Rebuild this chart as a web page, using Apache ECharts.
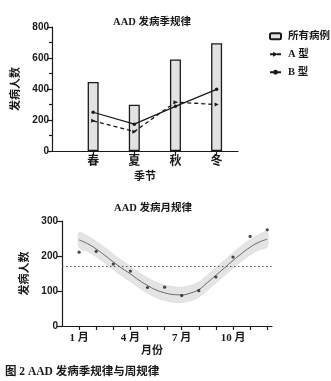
<!DOCTYPE html>
<html><head><meta charset="utf-8">
<script src="https://cdn.jsdelivr.net/npm/echarts@6/dist/echarts.min.js"></script>
<style>html,body{margin:0;padding:0;background:#fff}#c{width:331px;height:381px}</style>
</head><body><div id="c"></div>
<script>
// ---- Seasonal data ----
const seasons = ['春', '夏', '秋', '冬'];
const seasonPos = [1, 2, 3, 4];
const allCases = [445, 298, 590, 695];
const typeA = [195, 125, 315, 300];
const typeB = [250, 173, 288, 398];

// ---- Monthly data ----
const months = [1, 2, 3, 4, 5, 6, 7, 8, 9, 10, 11, 12];
const monthCases = [211, 213, 177, 157, 110, 111, 87, 101, 140, 197, 256, 275];
const monthLabelTicks = [1, 4, 7, 10];
const meanLevel = 170;
// fitted curve and confidence band
const curveX = [1, 1.5, 2, 2.5, 3, 3.5, 4, 4.5, 5, 5.5, 6, 6.5, 7, 7.5, 8, 8.5, 9, 9.5, 10, 10.5, 11, 11.5, 12];
const curveY = [246, 235, 220, 202, 183, 165, 149, 131, 116, 103, 95, 90, 89, 94, 104, 124, 145, 166, 187, 207, 225, 239, 248];
const bandUpper = [268, 257, 242, 224, 205, 187, 171, 153, 138, 125, 117, 112, 111, 116, 126, 146, 167, 188, 209, 229, 247, 261, 270];
const bandLower = [224, 213, 198, 180, 161, 143, 127, 109, 94, 81, 73, 68, 67, 72, 82, 102, 123, 144, 165, 185, 203, 217, 226];

const CJK = '"Liberation Serif","Noto Sans CJK SC",serif';
const NUM = '"Liberation Sans",Arial,sans-serif';
const INK = '#1a1a1a';

const chart = echarts.init(document.getElementById('c'), null, {renderer: 'canvas'});

const axisLine = {show: true, lineStyle: {color: INK, width: 1.2}};

chart.setOption({
  animation: false,
  backgroundColor: '#fff',
  title: [
    {text: 'AAD 发病季规律', left: 147, top: 12, textAlign: 'center',
     textStyle: {fontFamily: CJK, fontSize: 10.5, fontWeight: 'bold', color: INK}},
    {text: 'AAD 发病月规律', left: 148, top: 198, textAlign: 'center',
     textStyle: {fontFamily: CJK, fontSize: 10.5, fontWeight: 'bold', color: INK}},
    {text: '图 2 AAD 发病季规律与周规律', left: 0, top: 361,
     textStyle: {fontFamily: CJK, fontSize: 11.5, fontWeight: 'bold', color: INK}}
  ],
  legend: {
    data: ['所有病例', 'A 型', 'B 型'],
    orient: 'vertical', left: 264, top: 26,
    itemWidth: 11, itemHeight: 6, itemGap: 7.5,
    textStyle: {fontFamily: CJK, fontSize: 10.5, fontWeight: 'bold', color: INK, padding: [0, 0, 0, 2]}
  },
  grid: [
    {left: 52, top: 27, width: 186, height: 124},
    {left: 62, top: 221, width: 210, height: 105}
  ],
  xAxis: [
    {type: 'value', gridIndex: 0, min: 0, max: 4.52, interval: 1,
     name: '季节', nameLocation: 'middle', nameGap: 21,
     nameTextStyle: {fontFamily: CJK, fontSize: 11, fontWeight: 'bold', color: INK},
     axisLine: axisLine, splitLine: {show: false},
     axisTick: {show: true, length: 5, customValues: seasonPos, lineStyle: {color: INK, width: 1.2}},
     axisLabel: {customValues: seasonPos, margin: 5, fontFamily: CJK, fontSize: 12, fontWeight: 'bold', color: INK,
       formatter: v => seasons[v - 1] || ''}},
    {type: 'value', gridIndex: 1, min: 0, max: 12.28, interval: 1,
     name: '月份', nameLocation: 'middle', nameGap: 20,
     nameTextStyle: {fontFamily: CJK, fontSize: 11, fontWeight: 'bold', color: INK, padding: [0, 30, 0, 0]},
     axisLine: axisLine, splitLine: {show: false},
     axisTick: {show: true, length: 4, customValues: months, lineStyle: {color: INK, width: 1.2}},
     axisLabel: {customValues: monthLabelTicks, margin: 7, fontFamily: CJK, fontSize: 11, fontWeight: 'bold', color: INK,
       formatter: v => v + ' 月'}}
  ],
  yAxis: [
    {type: 'value', gridIndex: 0, min: 0, max: 800, interval: 200,
     name: '发病人数', nameLocation: 'middle', nameGap: 25, nameRotate: 90,
     nameTextStyle: {fontFamily: CJK, fontSize: 11, fontWeight: 'bold', color: INK},
     axisLine: axisLine, splitLine: {show: false}, minorSplitLine: {show: false},
     axisTick: {show: true, length: 5, lineStyle: {color: INK, width: 1.2}},
     minorTick: {show: true, splitNumber: 2, length: 3, lineStyle: {color: INK, width: 1.2}},
     axisLabel: {margin: 3, fontFamily: NUM, fontSize: 10, fontWeight: 'bold', color: INK}},
    {type: 'value', gridIndex: 1, min: 0, max: 300, interval: 100,
     name: '发病人数', nameLocation: 'middle', nameGap: 29, nameRotate: 90,
     nameTextStyle: {fontFamily: CJK, fontSize: 11, fontWeight: 'bold', color: INK},
     axisLine: axisLine, splitLine: {show: false},
     axisTick: {show: true, length: 5, lineStyle: {color: INK, width: 1.2}},
     axisLabel: {margin: 4, fontFamily: NUM, fontSize: 10, fontWeight: 'bold', color: INK}}
  ],
  series: [
    {name: '所有病例', type: 'bar', xAxisIndex: 0, yAxisIndex: 0, barWidth: 11,
     data: seasonPos.map((x, i) => [x, allCases[i]]),
     itemStyle: {color: '#e2e2e2', borderColor: INK, borderWidth: 1.3}},
    {name: 'A 型', type: 'line', xAxisIndex: 0, yAxisIndex: 0,
     data: seasonPos.map((x, i) => [x, typeA[i]]),
     symbol: 'triangle', symbolRotate: -90, symbolSize: 4,
     lineStyle: {color: INK, width: 1.3, type: [4, 3]}, itemStyle: {color: INK}, z: 5},
    {name: 'B 型', type: 'line', xAxisIndex: 0, yAxisIndex: 0,
     data: seasonPos.map((x, i) => [x, typeB[i]]),
     symbol: 'circle', symbolSize: 3.5,
     lineStyle: {color: INK, width: 1.3}, itemStyle: {color: INK}, z: 5},
    {name: 'band', type: 'custom', xAxisIndex: 1, yAxisIndex: 1,
     data: curveX.map((x, i) => [x, bandUpper[i], bandLower[i]]),
     encode: {x: 0, y: [1, 2]}, silent: true, z: 1,
     renderItem: function (params, api) {
       if (params.dataIndex !== 0) return null;
       const pts = [];
       for (let i = 0; i < curveX.length; i++) pts.push(api.coord([curveX[i], bandUpper[i]]));
       for (let i = curveX.length - 1; i >= 0; i--) pts.push(api.coord([curveX[i], bandLower[i]]));
       return {type: 'polygon', shape: {points: pts, smooth: 0.3}, style: {fill: '#e4e4e4', stroke: '#d6d6d6', lineWidth: 0.6}};
     }},
    {name: 'fit', type: 'line', xAxisIndex: 1, yAxisIndex: 1, smooth: true, showSymbol: false,
     data: curveX.map((x, i) => [x, curveY[i]]),
     lineStyle: {color: '#666', width: 1}, z: 3,
     markLine: {silent: true, symbol: 'none', label: {show: false},
       lineStyle: {color: '#555', width: 1.2, type: [1.5, 2.5]},
       data: [{yAxis: meanLevel}]}},
    {name: 'monthly', type: 'scatter', xAxisIndex: 1, yAxisIndex: 1,
     data: months.map((m, i) => [m, monthCases[i]]),
     symbol: 'circle', symbolSize: 3.2, itemStyle: {color: INK}, z: 6}
  ]
});
</script></body></html>
